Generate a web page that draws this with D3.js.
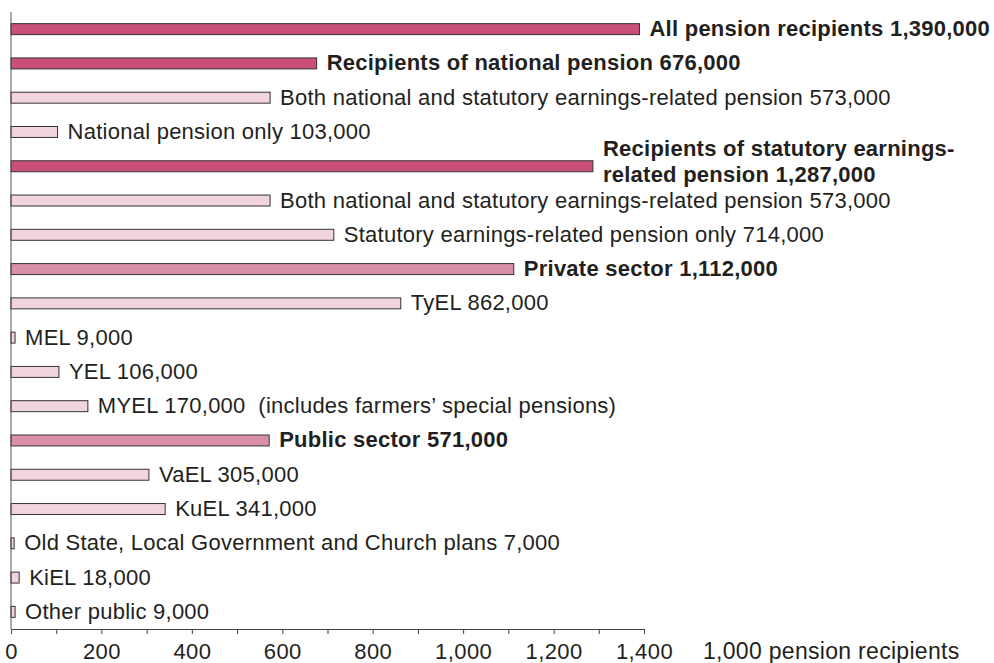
<!DOCTYPE html>
<html lang="en">
<head>
    <meta charset="utf-8">
    <title>Pension recipients</title>
    <script src="https://d3js.org/d3.v7.min.js"></script>
    <style type="text/css">
        body{
            margin: 0;
            background: #fff;
        }
        svg text{
            font-family: "Liberation Sans", Arial, sans-serif;
            fill: #231f20;
        }
        .labels{
            font-size: 22px;
            letter-spacing: 0.25px;
            white-space: pre;
        }
        .bold{
            font-weight: bold;
        }
    </style>
</head>
<body>
    <div id="frame"></div>
    <script type="text/javascript">

        // categories, top to bottom (\n = line break in label)
        const names = [
            "All pension recipients",
            "Recipients of national pension",
            "Both national and statutory earnings-related pension",
            "National pension only",
            "Recipients of statutory earnings-\nrelated pension",
            "Both national and statutory earnings-related pension",
            "Statutory earnings-related pension only",
            "Private sector",
            "TyEL",
            "MEL",
            "YEL",
            "MYEL",
            "Public sector",
            "VaEL",
            "KuEL",
            "Old State, Local Government and Church plans",
            "KiEL",
            "Other public"
        ];
        // thousands of pension recipients
        const values = [1390, 676, 573, 103, 1287, 573, 714, 1112, 862, 9, 106, 170, 571, 305, 341, 7, 18, 9];
        // 0 = total, 1 = sector, 2 = detail
        const levels = [0, 0, 2, 2, 0, 2, 2, 1, 2, 2, 2, 2, 1, 2, 2, 2, 2, 2];
        const notes = ["", "", "", "", "", "", "", "", "", "", "", "  (includes farmers\u2019 special pensions)", "", "", "", "", "", ""];
        const tickValues = d3.range(0, 1401, 100);
        const axisTitle = "1,000 pension recipients";

        const w = 994, h = 663;
        const myColor = ["#c84f79", "#d98fa8", "#f2d4dd"];
        const fmt = d3.format(",");

        const svg = d3.select("#frame").append("svg")
            .attr("width", w)
            .attr("height", h);

        const x = d3.scaleLinear().domain([0, 1400]).range([11, 644]);
        const y = d3.scaleBand().domain(d3.range(names.length)).range([12, 629]).paddingInner(0.68).paddingOuter(0.34);

        // bars
        svg.selectAll("rect.bar")
            .data(values)
            .enter()
            .append("rect")
            .attr("class", "bar")
            .attr("x", x(0))
            .attr("y", (d, i) => y(i))
            .attr("width", d => x(d) - x(0))
            .attr("height", y.bandwidth())
            .attr("fill", (d, i) => myColor[levels[i]])
            .attr("stroke", "#333")
            .attr("stroke-width", 1);

        // labels
        const labels = svg.selectAll("text.labels")
            .data(values)
            .enter()
            .append("text")
            .attr("class", (d, i) => levels[i] < 2 ? "labels bold" : "labels")
            .attr("x", d => x(d) + 10)
            .attr("xml:space", "preserve");

        labels.each(function(d, i) {
            const lines = (names[i] + " " + fmt(d * 1000) + notes[i]).split("\n");
            const cy = y(i) + y.bandwidth() / 2;
            const t = d3.select(this);
            if (lines.length === 1) {
                t.attr("y", cy + 7).text(lines[0]);
            } else {
                lines.forEach((line, k) => {
                    t.append("tspan")
                        .attr("x", x(d) + 10)
                        .attr("y", cy - 10.5 + k * 26)
                        .text(line);
                });
            }
        });

        // x axis
        const xAxis = d3.axisBottom(x)
            .tickValues(tickValues)
            .tickFormat(d => d % 200 === 0 ? fmt(d) : "")
            .tickSize(5)
            .tickSizeOuter(0)
            .tickPadding(9);

        const gx = svg.append("g")
            .attr("transform", "translate(0,629)")
            .call(xAxis);
        gx.selectAll("text")
            .style("font-size", "22px")
            .style("letter-spacing", "0.4px")
            .style("font-family", "'Liberation Sans', Arial, sans-serif")
            .attr("fill", "#231f20");
        gx.selectAll("line, path").attr("stroke", "#444");

        // y axis line
        svg.append("line")
            .attr("x1", x(0)).attr("x2", x(0))
            .attr("y1", 12).attr("y2", 629)
            .attr("stroke", "#555");

        svg.append("text")
            .attr("x", 703)
            .attr("y", 659)
            .style("font-size", "23px")
            .style("letter-spacing", "0.3px")
            .text(axisTitle);

    </script>
</body>
</html>
